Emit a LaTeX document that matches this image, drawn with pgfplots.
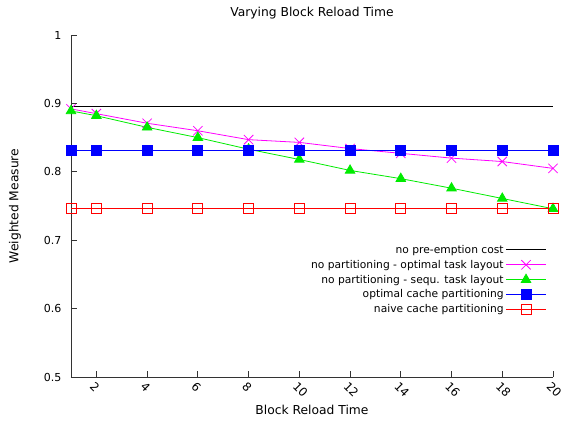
\documentclass[border=0pt]{standalone}
\usepackage{pgfplots}
\pgfplotsset{compat=1.18}
\usepackage{fontspec}
\setmainfont{DejaVu Sans}
\definecolor{gmag}{RGB}{255,0,255}
\definecolor{ggreen}{RGB}{0,235,0}
\definecolor{gblue}{RGB}{0,0,255}
\definecolor{gred}{RGB}{255,0,0}
\begin{document}
\begin{tikzpicture}
\path[use as bounding box] (-71bp,-47bp) rectangle (496bp,377bp);
\begin{axis}[at={(0,0)}, anchor=south west, scale only axis,
  width=482bp, height=342bp,
  xmin=1, xmax=20, ymin=0.5, ymax=1,
  axis x line*=bottom, axis y line*=left,
  axis line style={-, line width=0.9bp, black!80},
  tick align=inside, major tick length=6bp,
  tick style={black!80, line width=0.8bp},
  xtick={2,4,6,8,10,12,14,16,18,20},
  ytick={0.5,0.6,0.7,0.8,0.9,1},
  yticklabels={0.5,0.6,0.7,0.8,0.9,1},
  /pgf/number format/assume math mode=true,
  ticklabel style={font=\fontsize{11bp}{13bp}\selectfont},
  yticklabel style={xshift=-6bp},
  xticklabel style={rotate=-45, anchor=west, inner sep=1bp, yshift=-8bp, xshift=1bp, font=\fontsize{11.8bp}{13bp}\selectfont},
  title={Varying Block Reload Time},
  title style={at={(0.5,1)}, anchor=center, yshift=16bp, font=\fontsize{12.3bp}{14bp}\selectfont},
  xlabel={Block Reload Time},
  xlabel style={at={(0.5,0)}, anchor=center, inner sep=0pt, yshift=-33bp, font=\fontsize{12.3bp}{14bp}\selectfont},
  ylabel={Weighted Measure},
  ylabel style={at={(0,0.5)}, anchor=center, yshift=56bp, font=\fontsize{12.3bp}{14bp}\selectfont},
  legend style={draw=none, fill=none, at={(0.993,0.398)}, anchor=north east,
    font=\fontsize{10.7bp}{12bp}\selectfont, row sep=1.3bp},
  legend cell align=right,
  legend plot pos=right,
  legend image code/.code={\draw[#1, mark repeat=2, mark phase=2] plot coordinates {(0bp,0bp) (20bp,0bp) (40bp,0bp)};},
]
\addplot[black, line width=0.8bp, mark=none] coordinates {(1,0.895) (20,0.895)};
\addlegendentry{no pre-emption cost}
\addplot[gmag, line width=0.8bp, mark=x, mark size=6.6bp] coordinates {
(1,0.892) (2,0.885) (4,0.871) (6,0.860) (8,0.847) (10,0.843) (12,0.834) (14,0.827) (16,0.820) (18,0.815) (20,0.805)};
\addlegendentry{no partitioning - optimal task layout}
\addplot[ggreen, line width=0.8bp, mark=triangle*, mark size=5.5bp] coordinates {
(1,0.889) (2,0.882) (4,0.865) (6,0.850) (8,0.833) (10,0.818) (12,0.802) (14,0.790) (16,0.776) (18,0.761) (20,0.746)};
\addlegendentry{no partitioning - sequ. task layout}
\addplot[gblue, line width=0.8bp, mark=square*, mark size=5bp] coordinates {
(1,0.832) (2,0.832) (4,0.832) (6,0.832) (8,0.832) (10,0.832) (12,0.832) (14,0.832) (16,0.832) (18,0.832) (20,0.832)};
\addlegendentry{optimal cache partitioning}
\addplot[gred, line width=0.8bp, mark=square, mark size=5bp] coordinates {
(1,0.746) (2,0.746) (4,0.746) (6,0.746) (8,0.746) (10,0.746) (12,0.746) (14,0.746) (16,0.746) (18,0.746) (20,0.746)};
\addlegendentry{naive cache partitioning}
\end{axis}
\end{tikzpicture}
\end{document}
